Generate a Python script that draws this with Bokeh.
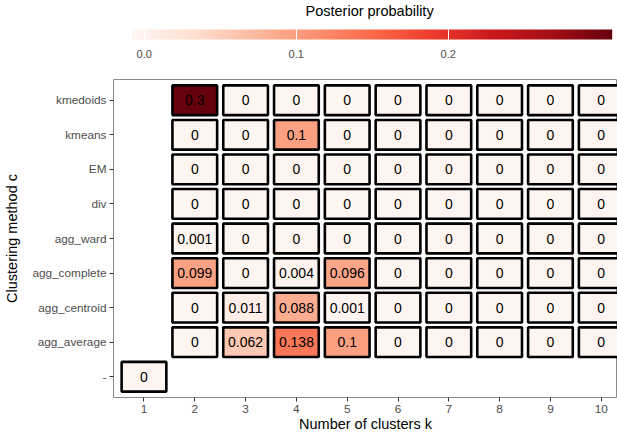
import numpy as np
from bokeh.plotting import figure
from bokeh.models import (ColumnDataSource, LinearColorMapper, ColorBar, FixedTicker,
                          PrintfTickFormatter, Range1d, Title)
from bokeh.core.properties import value
from bokeh.transform import transform
from bokeh.palettes import Reds9
from bokeh.embed import file_html
from bokeh.resources import INLINE

# ---------------- data ----------------
methods = ["-", "agg_average", "agg_centroid", "agg_complete", "agg_ward",
           "div", "EM", "kmeans", "kmedoids"]
k_values = [2, 3, 4, 5, 6, 7, 8, 9, 10]
kmedoids = [0.3, 0, 0, 0, 0, 0, 0, 0, 0]
kmeans = [0, 0, 0.1, 0, 0, 0, 0, 0, 0]
em = [0, 0, 0, 0, 0, 0, 0, 0, 0]
div = [0, 0, 0, 0, 0, 0, 0, 0, 0]
agg_ward = [0.001, 0, 0, 0, 0, 0, 0, 0, 0]
agg_complete = [0.099, 0, 0.004, 0.096, 0, 0, 0, 0, 0]
agg_centroid = [0, 0.011, 0.088, 0.001, 0, 0, 0, 0, 0]
agg_average = [0, 0.062, 0.138, 0.1, 0, 0, 0, 0, 0]
none_k = [1]
none_prob = [0]
x_ticks = [1, 2, 3, 4, 5, 6, 7, 8, 9, 10]
cbar_ticks = [0.0, 0.1, 0.2]
prob_max = 0.3

rows = {"-": (none_k, none_prob), "agg_average": (k_values, agg_average),
        "agg_centroid": (k_values, agg_centroid), "agg_complete": (k_values, agg_complete),
        "agg_ward": (k_values, agg_ward), "div": (k_values, div), "EM": (k_values, em),
        "kmeans": (k_values, kmeans), "kmedoids": (k_values, kmedoids)}

xs, ys, vals, labels = [], [], [], []
for i, m in enumerate(methods):
    ks, vs = rows[m]
    for k, v in zip(ks, vs):
        xs.append(k)
        ys.append(i + 1)
        vals.append(v)
        labels.append(f"{v:g}")
src = ColumnDataSource(dict(x=xs, y=ys, value=vals, label=labels))

# ---------------- palette ----------------
anchors = list(reversed(Reds9))  # light -> dark
rgb = np.array([[int(c[j:j + 2], 16) for j in (1, 3, 5)] for c in anchors], float)
t = np.linspace(0, 1, 256)
pos = np.linspace(0, 1, len(anchors))
pal = ["#%02x%02x%02x" % tuple(int(round(np.interp(tt, pos, rgb[:, ch]))) for ch in range(3)) for tt in t]

mapper = LinearColorMapper(palette=pal, low=0, high=prob_max)
half_bin = prob_max / 38
bar_mapper = LinearColorMapper(palette=pal, low=-half_bin, high=prob_max + half_bin)

FONT = "Liberation Sans"

p = figure(width=617, height=434, x_range=Range1d(0.4, 10.32), y_range=Range1d(0.4, 9.6),
           output_backend="svg", toolbar_location=None, title=None,
           min_border_left=113, min_border_right=0, min_border_bottom=35, min_border_top=78)

p.rect(x="x", y="y", width=0.88, height=0.86, source=src,
       fill_color=transform("value", mapper), line_color="black", line_width=2.6)
p.text(x="x", y="y", text="label", source=src, text_align="center", text_baseline="middle",
       text_font=value(FONT), text_font_size="14px", text_color="black")

p.xgrid.visible = False
p.ygrid.visible = False
p.outline_line_color = "#8a8a8a"
p.outline_line_width = 1
p.background_fill_color = "white"
p.border_fill_color = "white"

p.xaxis.ticker = FixedTicker(ticks=x_ticks)
p.yaxis.ticker = FixedTicker(ticks=list(range(1, len(methods) + 1)))
p.yaxis.major_label_overrides = {i + 1: m for i, m in enumerate(methods)}

for ax in (p.xaxis[0], p.yaxis[0]):
    ax.axis_line_color = None
    ax.major_tick_line_color = "#333333"
    ax.major_tick_out = 4
    ax.major_tick_in = 0
    ax.minor_tick_line_color = None
    ax.major_label_text_font = FONT
    ax.major_label_text_font_size = "11.8px"
    ax.major_label_text_color = "#4d4d4d"
    ax.major_label_standoff = 3
    ax.axis_label_text_font = FONT
    ax.axis_label_text_font_size = "14.5px"
    ax.axis_label_text_font_style = "normal"
    ax.axis_label_text_color = "black"

p.xaxis.axis_label = "Number of clusters k"
p.xaxis.axis_label_standoff = 0
p.yaxis.axis_label = "Clustering method c"
p.yaxis.axis_label_standoff = 9

cb = ColorBar(color_mapper=bar_mapper, orientation="horizontal", width=480, height=10,
              location=(18.7, 337), padding=0, margin=0,
              ticker=FixedTicker(ticks=cbar_ticks), formatter=PrintfTickFormatter(format="%.1f"),
              major_label_text_font=FONT, major_label_text_font_size="11px",
              major_label_text_color="#4d4d4d", label_standoff=10,
              major_tick_line_color="white", major_tick_in=10, major_tick_out=0,
              minor_tick_line_color=None, bar_line_color=None, border_line_color=None,
              background_fill_alpha=0)
p.add_layout(cb, "center")

# empty spacer title next to the frame, then the legend title above it
spacer = Title(text=" ", standoff=43, text_font=FONT, text_font_size="14.5px")
p.add_layout(spacer, "above")
legend_title = Title(text="Posterior  probability", align="left", offset=192, standoff=0,
                     text_font=FONT, text_font_size="14.5px", text_font_style="normal",
                     text_color="black")
p.add_layout(legend_title, "above")

open("out.html", "w").write(file_html(p, INLINE))
